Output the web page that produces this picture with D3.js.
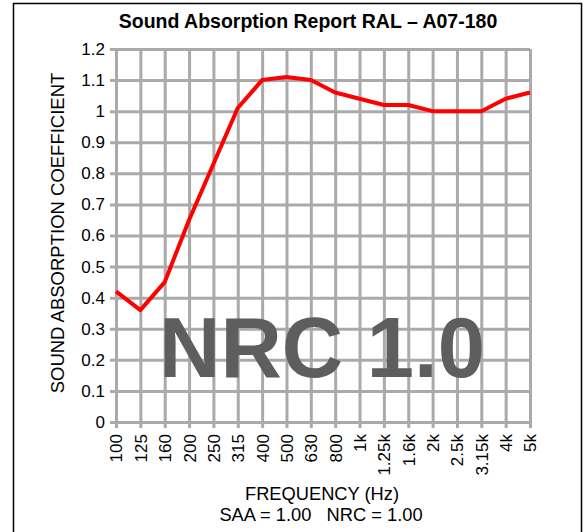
<!DOCTYPE html>
<meta charset="utf-8">
<style>
body { margin: 0; background: #fff; }
svg { display: block; font-family: "Liberation Sans", Arial, sans-serif; }
.grid line { stroke: #aaaaaa; stroke-width: 3px; }
.grid text { font-size: 17px; fill: #000; }
.line { fill: none; stroke: #ff0000; stroke-width: 4px; stroke-linejoin: round; }
</style>
<body>
<script src="https://d3js.org/d3.v7.min.js"></script>
<script>

// chart data
var freqs = ["100", "125", "160", "200", "250", "315", "400", "500", "630", "800",
             "1k", "1.25k", "1.6k", "2k", "2.5k", "3.15k", "4k", "5k"];
var coeffs = [0.42, 0.36, 0.45, 0.65, 0.83, 1.01, 1.10, 1.11, 1.10, 1.06,
              1.04, 1.02, 1.02, 1.00, 1.00, 1.00, 1.04, 1.06];
var yTicks = [0, 0.1, 0.2, 0.3, 0.4, 0.5, 0.6, 0.7, 0.8, 0.9, 1, 1.1, 1.2];

// plot box (not "top" - that one belongs to window)
var plot = {left: 116, right: 530, top: 49, bottom: 422};

var svg = d3.select("body").append("svg")
    .attr("width", 588)
    .attr("height", 532);

// outer frame
svg.append("rect")
    .attr("x", 13.5).attr("y", 3.5)
    .attr("width", 568).attr("height", 540)
    .attr("fill", "none")
    .attr("stroke", "#000")
    .attr("stroke-width", 1.5);

var x = d3.scalePoint().domain(freqs).range([plot.left, plot.right]);
var y = d3.scaleLinear().domain([0, 1.2]).range([plot.bottom, plot.top]);

// y grid + labels
var yAxis = svg.append("g")
    .attr("class", "grid")
    .attr("transform", "translate(" + (plot.left - 6) + ",0)")
    .call(d3.axisLeft(y).tickValues(yTicks).tickSize(-(plot.right - plot.left + 6)).tickPadding(5)
      .tickFormat(function(d) { return d3.format("~g")(d); }));
yAxis.select(".domain").remove();

// x grid + labels
var xAxis = svg.append("g")
    .attr("class", "grid")
    .attr("transform", "translate(0," + (plot.bottom + 6) + ")")
    .call(d3.axisBottom(x).tickSize(-(plot.bottom - plot.top + 6)));
xAxis.select(".domain").remove();
xAxis.selectAll("text")
    .attr("transform", "rotate(-90)")
    .attr("x", -6)
    .attr("y", 0)
    .attr("dy", "0.35em")
    .style("text-anchor", "end");

// big NRC stamp
svg.append("text")
    .attr("x", 322)
    .attr("y", 377)
    .attr("text-anchor", "middle")
    .style("font-size", "85px")
    .style("font-weight", "bold")
    .style("fill", "#5e5e5e")
    .text("NRC 1.0");

// the curve
var line = d3.line()
    .x(function(d, i) { return x(freqs[i]); })
    .y(function(d) { return y(d); });

svg.append("path")
    .datum(coeffs)
    .attr("class", "line")
    .attr("d", line);

// title
svg.append("text")
    .attr("x", 308)
    .attr("y", 28)
    .attr("text-anchor", "middle")
    .style("font-size", "19.5px")
    .style("font-weight", "bold")
    .text("Sound Absorption Report RAL \u2013 A07-180");

// y axis title
svg.append("text")
    .attr("transform", "translate(64,233) rotate(-90)")
    .attr("text-anchor", "middle")
    .style("font-size", "18.5px")
    .text("SOUND ABSORPTION COEFFICIENT");

// x axis title
svg.append("text")
    .attr("x", 322)
    .attr("y", 500)
    .attr("text-anchor", "middle")
    .style("font-size", "18.3px")
    .text("FREQUENCY (Hz)");

svg.append("text")
    .attr("x", 321)
    .attr("y", 521)
    .attr("text-anchor", "middle")
    .style("font-size", "18.3px")
    .style("white-space", "pre")
    .text("SAA = 1.00   NRC = 1.00");

</script>
</body>
